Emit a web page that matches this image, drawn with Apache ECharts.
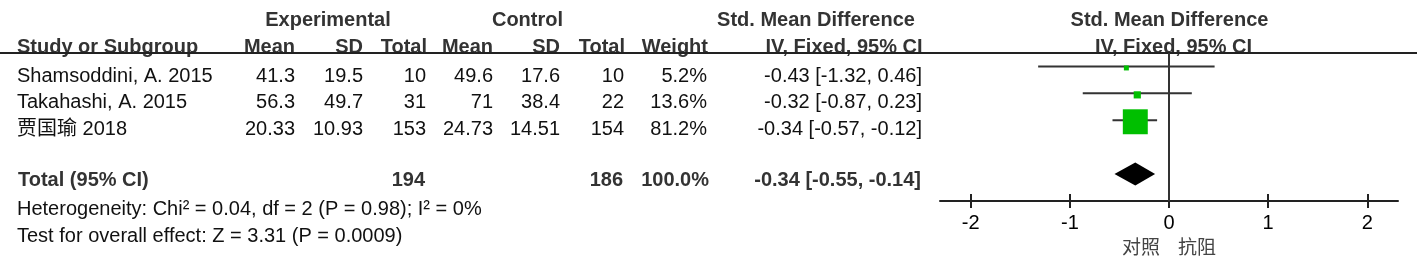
<!DOCTYPE html>
<html>
<head>
<meta charset="utf-8">
<script src="https://cdn.jsdelivr.net/npm/echarts@6/dist/echarts.min.js"></script>
<style>
    html, body {margin: 0; padding: 0; background: #fff;}
    #container {width: 1417px; height: 268px;}
</style>
</head>
<body>
<div id="container"></div>
<script>
// study data
let studies = ["Shamsoddini, A. 2015", "Takahashi, A. 2015", "贾国瑜 2018"];
let expMean = [41.3, 56.3, 20.33];
let expSD = [19.5, 49.7, 10.93];
let expTotal = [10, 31, 153];
let ctrlMean = [49.6, 71, 24.73];
let ctrlSD = [17.6, 38.4, 14.51];
let ctrlTotal = [10, 22, 154];
let weight = [5.2, 13.6, 81.2];
let smd = [-0.43, -0.32, -0.34];
let smdLow = [-1.32, -0.87, -0.57];
let smdHigh = [0.46, 0.23, -0.12];

// pooled
let totalExp = 194;
let totalCtrl = 186;
let totalWeight = 100.0;
let pooled = [-0.34, -0.55, -0.14];
let chi2 = 0.04, df = 2, pHet = 0.98, iSquared = 0;
let zValue = 3.31, pZ = 0.0009;

let tickValues = [-2, -1, 0, 1, 2];
let favours = ["对照", "抗阻"];

// layout
var FONT = "Liberation Sans, Arial, Noto Sans CJK SC, sans-serif";
var FS = 20;
var rowY = [76, 102.7, 129.3];
var totalRowIndex = 4;

function fmtCI(a, b, c) {
    return a.toFixed(2) + " [" + b.toFixed(2) + ", " + c.toFixed(2) + "]";
}

function txt(s, x, y, align, bold, color) {
    return {
        type: "text",
        x: x,
        y: y,
        silent: true,
        style: {
            text: s,
            font: (bold ? "bold " : "") + FS + "px " + FONT,
            fill: color || (bold ? "#333" : "#111"),
            textAlign: align,
            textVerticalAlign: "middle"
        }
    };
}

function buildTable() {
    let g = [];
    // headers
    g.push(txt("Experimental", 328, 20.5, "center", true));
    g.push(txt("Control", 527.5, 20.5, "center", true));
    g.push(txt("Std. Mean Difference", 816, 20.5, "center", true));
    g.push(txt("Std. Mean Difference", 1169.5, 20.5, "center", true));
    g.push(txt("Study or Subgroup", 17, 47.3, "left", true));
    let heads = ["Mean", "SD", "Total", "Mean", "SD", "Total", "Weight"];
    let headX = [295, 363, 427, 493, 560, 625, 708];
    for (let i = 0; i < heads.length; i++) {
        g.push(txt(heads[i], headX[i], 47.3, "right", true));
    }
    g.push(txt("IV, Fixed, 95% CI", 844, 47.3, "center", true));
    g.push(txt("IV, Fixed, 95% CI", 1173.5, 47.3, "center", true));
    g.push({
        type: "line",
        silent: true,
        shape: {x1: 0, y1: 53, x2: 1417, y2: 53},
        style: {stroke: "#222", lineWidth: 2}
    });

    // study rows
    let colX = [295, 363, 426, 493, 560, 624, 707, 922];
    for (let i = 0; i < studies.length; i++) {
        let y = rowY[i];
        g.push(txt(studies[i], 17, y, "left", false));
        let cells = [expMean[i], expSD[i], expTotal[i], ctrlMean[i], ctrlSD[i], ctrlTotal[i],
            weight[i].toFixed(1) + "%", fmtCI(smd[i], smdLow[i], smdHigh[i])];
        for (let j = 0; j < cells.length; j++) {
            g.push(txt(String(cells[j]), colX[j], y, "right", false));
        }
    }

    // totals
    g.push(txt("Total (95% CI)", 18, 180.5, "left", true));
    g.push(txt(String(totalExp), 425, 180.5, "right", true));
    g.push(txt(String(totalCtrl), 623, 180.5, "right", true));
    g.push(txt(totalWeight.toFixed(1) + "%", 709, 180.5, "right", true));
    g.push(txt(fmtCI(pooled[0], pooled[1], pooled[2]), 921, 180.5, "right", true));
    g.push(txt("Heterogeneity: Chi² = " + chi2.toFixed(2) + ", df = " + df + " (P = " + pHet.toFixed(2) +
        "); I² = " + iSquared + "%", 17, 209.5, "left", false));
    g.push(txt("Test for overall effect: Z = " + zValue.toFixed(2) + " (P = " + pZ + ")", 17, 236.7, "left", false));
    return g;
}

var dom = document.getElementById("container");
var myChart = echarts.init(dom, null, {renderer: "canvas"});

var xMin = -2.31, xMax = 2.31;
var gridBox = {left: 940, right: 19, top: 53, bottom: 67};

var option = {
    animation: false,
    backgroundColor: "#fff",
    // second grid sits on top of the first, only to give ticks above the line
    grid: [Object.assign({}, gridBox), Object.assign({}, gridBox)],
    xAxis: [
        {
            type: "value",
            gridIndex: 0,
            min: xMin,
            max: xMax,
            position: "bottom",
            splitLine: {show: false},
            axisLine: {show: true, onZero: false, lineStyle: {color: "#222", width: 2}},
            axisTick: {show: true, inside: false, length: 7, customValues: tickValues, lineStyle: {color: "#222", width: 2}},
            axisLabel: {
                show: true,
                margin: 12,
                customValues: tickValues,
                fontFamily: FONT,
                fontSize: FS,
                color: "#000",
                formatter: function (v) {
                    return String(v);
                }
            }
        },
        {
            type: "value",
            gridIndex: 1,
            min: xMin,
            max: xMax,
            position: "bottom",
            splitLine: {show: false},
            axisLine: {show: false, onZero: false},
            axisTick: {show: true, inside: true, length: 7, customValues: tickValues, lineStyle: {color: "#222", width: 2}},
            axisLabel: {show: false}
        }
    ],
    yAxis: [
        {type: "value", gridIndex: 0, inverse: true, min: -0.5, max: 5, show: false},
        {type: "value", gridIndex: 1, inverse: true, min: -0.5, max: 5, show: false}
    ],
    series: [
        {
            // line of no effect
            type: "line",
            data: [[0, -0.5], [0, 5]],
            symbol: "none",
            lineStyle: {color: "#333", width: 2},
            silent: true
        },
        {
            type: "custom",
            name: "ci",
            data: studies.map(function (s, i) {
                return [smdLow[i], smdHigh[i], i];
            }),
            renderItem: function (params, api) {
                let p1 = api.coord([api.value(0), api.value(2)]);
                let p2 = api.coord([api.value(1), api.value(2)]);
                return {
                    type: "line",
                    shape: {x1: p1[0], y1: p1[1], x2: p2[0], y2: p2[1]},
                    style: {stroke: "#333", lineWidth: 2}
                };
            },
            silent: true
        },
        {
            type: "scatter",
            name: "smd",
            symbol: "rect",
            data: studies.map(function (s, i) {
                return [smd[i], i, weight[i]];
            }),
            symbolSize: function (v) {
                return 3.6 + 0.263 * v[2];
            },
            symbolOffset: [0, 1.5],
            itemStyle: {color: "#00bf00", opacity: 1},
            silent: true
        },
        {
            type: "custom",
            name: "pooled",
            data: [[pooled[0], pooled[1], pooled[2], totalRowIndex]],
            renderItem: function (params, api) {
                let row = api.value(3);
                let c = api.coord([api.value(0), row]);
                let l = api.coord([api.value(1), row]);
                let r = api.coord([api.value(2), row]);
                let h = 11.5;
                return {
                    type: "polygon",
                    shape: {points: [[l[0], c[1]], [c[0], c[1] - h], [r[0], c[1]], [c[0], c[1] + h]]},
                    style: {fill: "#000"}
                };
            },
            silent: true
        }
    ],
    graphic: buildTable()
};
myChart.setOption(option);

// favours labels either side of zero
var zx = myChart.convertToPixel({xAxisIndex: 0}, 0);
var extra = option.graphic.slice();
extra.push(txt(favours[0], zx - 9, 247, "right", false, "#444"));
extra.push(txt(favours[1], zx + 9, 247, "left", false, "#444"));
extra[extra.length - 1].style.font = "19px Noto Sans CJK SC, sans-serif";
extra[extra.length - 2].style.font = "19px Noto Sans CJK SC, sans-serif";
myChart.setOption({graphic: extra}, {replaceMerge: ["graphic"]});
</script>
</body>
</html>
